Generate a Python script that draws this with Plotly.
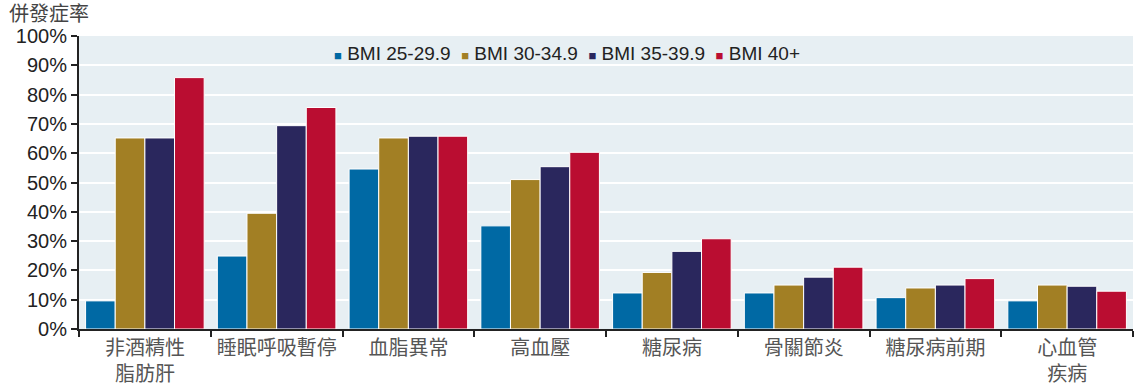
import plotly.graph_objects as go

categories = ["非酒精性<br>脂肪肝", "睡眠呼吸暫停", "血脂異常", "高血壓", "糖尿病", "骨關節炎", "糖尿病前期", "心血管<br>疾病"]
series_names = ["BMI 25-29.9", "BMI 30-34.9", "BMI 35-39.9", "BMI 40+"]
bmi_25 = [9.6, 24.9, 54.6, 35.2, 12.3, 12.3, 10.7, 9.6]
bmi_30 = [65.2, 39.5, 65.2, 51.0, 19.3, 15.0, 14.0, 15.0]
bmi_35 = [65.2, 69.4, 65.8, 55.4, 26.5, 17.7, 15.0, 14.6]
bmi_40 = [85.8, 75.6, 65.8, 60.3, 30.8, 21.1, 17.2, 12.9]
colors = ["#0069A4", "#A27F24", "#2A275D", "#BA0D31"]
y_ticks = [0, 10, 20, 30, 40, 50, 60, 70, 80, 90, 100]

font_family = "Liberation Sans, Arial, Noto Sans CJK TC, sans-serif"

fig = go.Figure()
for name, vals, col in zip(series_names, [bmi_25, bmi_30, bmi_35, bmi_40], colors):
    fig.add_trace(go.Bar(
        x=categories, y=vals, name=name,
        marker=dict(color=col, line=dict(color="white", width=1)),
    ))

legend_text = "  ".join(
    f"<span style='color:{c};font-size:13px'>■</span> {n}" for n, c in zip(series_names, colors)
)

fig.update_layout(
    width=1135, height=389,
    margin=dict(l=79, r=2, t=36, b=60),
    paper_bgcolor="white",
    plot_bgcolor="#E7EFF3",
    barmode="group",
    bargap=0.1,
    bargroupgap=0,
    font=dict(family=font_family, size=19, color="#222222"),
    showlegend=False,
    annotations=[
        dict(
            text="併發症率", x=0, y=1, xref="paper", yref="paper",
            xshift=-72, yshift=9,
            xanchor="left", yanchor="bottom", showarrow=False,
            font=dict(size=20, color="#444444", family=font_family),
        ),
        dict(
            text=legend_text, x=0.463, y=1, xref="paper", yref="paper",
            xanchor="center", yanchor="top", yshift=-5, showarrow=False,
            font=dict(size=19, color="#222222", family=font_family),
        ),
    ],
)

fig.update_yaxes(
    range=[0, 100], tickvals=y_ticks, ticktext=[f"{v}%" for v in y_ticks],
    showgrid=True, gridcolor="white", gridwidth=2,
    showline=True, linecolor="#222222", linewidth=2,
    ticks="outside", ticklen=6, tickcolor="#222222", tickwidth=2,
    zeroline=False, automargin=False,
    tickfont=dict(size=20, color="#222222"),
)
fig.update_xaxes(
    showline=True, linecolor="#222222", linewidth=2,
    ticks="outside", tickson="boundaries", ticklen=6, tickcolor="#222222", tickwidth=2,
    showgrid=False, automargin=False,
    tickfont=dict(size=20, color="#555555"),
)

fig.write_html(
    "out.html",
    config={"displayModeBar": False},
    post_script="document.body.style.margin='0px';",
)
